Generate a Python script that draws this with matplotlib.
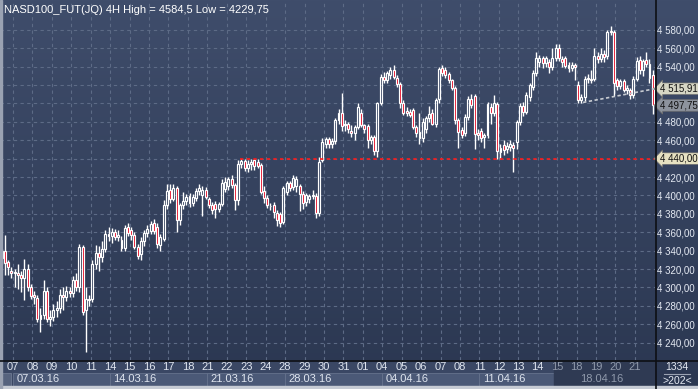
import numpy as np
import matplotlib
matplotlib.use('Agg')
import matplotlib.pyplot as plt
from matplotlib.patches import Rectangle
from matplotlib.lines import Line2D
from matplotlib.colors import LinearSegmentedColormap
from matplotlib.transforms import blended_transform_factory

plt.rcParams['font.family'] = ['Liberation Sans', 'DejaVu Sans']

# 4H bars, NASD100 futures, 04.03.16 - 21.04.16
opens = [4332, 4340, 4328, 4318, 4316, 4316, 4313, 4310, 4320, 4301,
         4292, 4289, 4266, 4270, 4296, 4266, 4268, 4276, 4278, 4292,
         4290, 4296, 4294, 4308, 4300, 4344, 4275, 4288, 4287, 4326,
         4337, 4333, 4342, 4358, 4356, 4360, 4355, 4352, 4343, 4366,
         4362, 4357, 4344, 4336, 4350, 4359, 4361, 4370, 4366, 4346,
         4353, 4390, 4406, 4396, 4408, 4373, 4390, 4394, 4399, 4392,
         4397, 4405, 4400, 4406, 4396, 4390, 4391, 4385, 4391, 4407,
         4410, 4418, 4411, 4395, 4434, 4437, 4430, 4434, 4438, 4436,
         4433, 4405, 4397, 4389, 4390, 4381, 4380, 4371, 4404, 4413,
         4409, 4410, 4410, 4402, 4393, 4396, 4399, 4399, 4381, 4438,
         4456, 4461, 4456, 4459, 4482, 4490, 4476, 4478, 4470, 4468,
         4474, 4490, 4476, 4475, 4460, 4463, 4448, 4500, 4529, 4525,
         4531, 4536, 4528, 4521, 4500, 4492, 4491, 4493, 4474, 4469,
         4462, 4472, 4484, 4490, 4478, 4505, 4538, 4536, 4532, 4525,
         4517, 4482, 4471, 4468, 4485, 4505, 4508, 4468, 4470, 4463,
         4466, 4496, 4490, 4499, 4452, 4455, 4450, 4453, 4455, 4458,
         4480, 4497, 4491, 4507, 4518, 4533, 4545, 4549, 4544, 4545,
         4540, 4549, 4560, 4548, 4549, 4542, 4538, 4542, 4520, 4504,
         4507, 4526, 4527, 4527, 4552, 4548, 4554, 4551, 4579, 4578,
         4525, 4519, 4524, 4514, 4515, 4509, 4527, 4547, 4536, 4547,
         4543, 4531]
highs = [4342, 4357, 4330, 4322, 4320, 4325, 4318, 4331, 4326, 4304,
         4296, 4292, 4278, 4308, 4300, 4275, 4282, 4285, 4298, 4300,
         4302, 4300, 4312, 4316, 4347, 4346, 4300, 4292, 4330, 4346,
         4345, 4350, 4362, 4366, 4365, 4364, 4362, 4356, 4368, 4370,
         4366, 4360, 4347, 4355, 4362, 4368, 4372, 4374, 4370, 4358,
         4395, 4412, 4412, 4412, 4410, 4392, 4404, 4402, 4403, 4402,
         4408, 4412, 4410, 4409, 4398, 4393, 4394, 4393, 4418, 4420,
         4420, 4422, 4413, 4438, 4440, 4440, 4438, 4440, 4440, 4440,
         4435, 4410, 4400, 4392, 4393, 4384, 4382, 4410, 4416, 4416,
         4422, 4421, 4412, 4405, 4403, 4402, 4406, 4403, 4442, 4462,
         4464, 4463, 4462, 4484, 4494, 4511, 4482, 4480, 4476, 4476,
         4500, 4494, 4478, 4478, 4466, 4466, 4502, 4532, 4534, 4535,
         4540, 4542, 4531, 4523, 4504, 4496, 4494, 4495, 4476, 4490,
         4484, 4486, 4497, 4494, 4506, 4540, 4542, 4539, 4534, 4527,
         4519, 4484, 4474, 4488, 4508, 4510, 4510, 4472, 4473, 4468,
         4502, 4500, 4509, 4502, 4456, 4460, 4458, 4460, 4458, 4482,
         4500, 4502, 4512, 4522, 4536, 4556, 4553, 4552, 4551, 4548,
         4560, 4564, 4565, 4552, 4552, 4545, 4545, 4544, 4524, 4510,
         4530, 4532, 4536, 4560, 4556, 4560, 4558, 4580, 4584.5, 4580,
         4528, 4527, 4526, 4520, 4517, 4530, 4550, 4552, 4548, 4556,
         4548, 4536]
lows = [4325, 4314, 4314, 4310, 4300, 4298, 4295, 4286, 4296, 4288,
        4282, 4262, 4252, 4266, 4262, 4258, 4264, 4268, 4272, 4276,
        4285, 4290, 4290, 4296, 4295, 4270, 4229.75, 4280, 4284, 4320,
        4318, 4328, 4338, 4350, 4348, 4352, 4350, 4340, 4340, 4356,
        4352, 4342, 4331, 4330, 4345, 4355, 4358, 4358, 4343, 4340,
        4350, 4385, 4392, 4394, 4360, 4368, 4385, 4390, 4387, 4388,
        4394, 4400, 4378, 4396, 4386, 4380, 4376, 4382, 4389, 4404,
        4406, 4408, 4384, 4390, 4430, 4426, 4425, 4428, 4428, 4430,
        4402, 4392, 4386, 4384, 4375, 4367, 4366, 4369, 4400, 4405,
        4406, 4404, 4383, 4385, 4388, 4392, 4396, 4376, 4378, 4436,
        4452, 4452, 4452, 4456, 4478, 4470, 4470, 4468, 4463, 4460,
        4472, 4474, 4468, 4452, 4456, 4444, 4442, 4498, 4522, 4522,
        4527, 4526, 4518, 4495, 4487, 4486, 4485, 4472, 4464, 4456,
        4458, 4468, 4480, 4476, 4474, 4500, 4530, 4528, 4522, 4514,
        4478, 4451, 4462, 4465, 4482, 4495, 4450, 4460, 4458, 4452,
        4462, 4478, 4486, 4440, 4440, 4444, 4446, 4448, 4425, 4450,
        4476, 4486, 4488, 4503, 4515, 4530, 4540, 4538, 4540, 4533,
        4536, 4546, 4546, 4540, 4538, 4534, 4535, 4525, 4500, 4500,
        4503, 4522, 4522, 4524, 4544, 4545, 4545, 4548, 4574, 4508,
        4515, 4516, 4512, 4510, 4505, 4506, 4524, 4532, 4530, 4540,
        4522, 4488]
closes = [4340, 4327, 4322, 4316, 4316, 4313, 4310, 4320, 4301, 4291,
          4290, 4266, 4270, 4296, 4266, 4268, 4276, 4278, 4292, 4290,
          4296, 4294, 4308, 4300, 4344, 4273, 4288, 4286, 4326, 4337,
          4333, 4342, 4358, 4356, 4360, 4355, 4357, 4343, 4365, 4359,
          4357, 4344, 4334, 4350, 4359, 4364, 4369, 4361, 4347, 4355,
          4390, 4405, 4396, 4408, 4373, 4390, 4394, 4398, 4392, 4398,
          4405, 4408, 4406, 4398, 4390, 4384, 4385, 4391, 4414, 4415,
          4418, 4411, 4395, 4434, 4437, 4430, 4434, 4436, 4432, 4432,
          4404, 4397, 4390, 4388, 4382, 4373, 4370, 4408, 4413, 4408,
          4419, 4418, 4402, 4392, 4400, 4399, 4400, 4381, 4436, 4458,
          4461, 4456, 4459, 4482, 4489, 4475, 4478, 4472, 4468, 4474,
          4496, 4476, 4472, 4460, 4463, 4448, 4500, 4529, 4525, 4533,
          4536, 4529, 4521, 4500, 4490, 4489, 4487, 4474, 4468, 4462,
          4480, 4484, 4488, 4478, 4504, 4537, 4533, 4531, 4525, 4517,
          4482, 4469, 4466, 4485, 4505, 4498, 4467, 4466, 4462, 4466,
          4499, 4490, 4500, 4448, 4447, 4449, 4454, 4456, 4452, 4480,
          4497, 4491, 4509, 4520, 4533, 4549, 4549, 4544, 4549, 4540,
          4549, 4560, 4549, 4545, 4541, 4538, 4542, 4540, 4504, 4507,
          4527, 4528, 4525, 4552, 4548, 4554, 4550, 4578, 4578, 4522,
          4519, 4524, 4515, 4517, 4509, 4527, 4546, 4536, 4546, 4543,
          4528, 4497.75]

day_labels = ['07', '08', '09', '10', '11', '14', '15', '16', '17', '18',
              '21', '22', '23', '24', '28', '29', '30', '31', '01', '04',
              '05', '06', '07', '08', '11', '12', '13', '14', '15', '18',
              '19', '20', '21']
week_labels = ['07.03.16', '14.03.16', '21.03.16', '28.03.16',
               '04.04.16', '11.04.16', '18.04.16']
week_first_day = [0, 5, 10, 14, 19, 24, 29]
first_bar = 4          # bars before 07.03 on screen
bars_per_day = 6
dim_from_day = 28      # bottom strip darker from 15.04

level_line = 4440.0
trend_x = [179.5, 201.7]
trend_y = [4501.0, 4515.91]
last_price = 4497.75
hi_txt, lo_txt = '4584,5', '4229,75'
price_ticks = np.arange(4240, 4581, 20)
hidden_ticks = [4500, 4520, 4440]   # covered by the price boxes


def fmt(v):
    return f'{v:,.2f}'.replace(',', ' ').replace('.', ',')


W, H = 698, 389
fig = plt.figure(figsize=(W / 100, H / 100), dpi=100)

# background gradient
bg = fig.add_axes([0, 0, 1, 1])
bg.axis('off')
cmap = LinearSegmentedColormap.from_list('bg', ['#3f4d6b', '#2b3751'])
bg.imshow(np.linspace(0, 1, 256).reshape(-1, 1), aspect='auto', cmap=cmap,
          extent=[0, 1, 0, 1])
bg.set_xlim(0, 1)
bg.set_ylim(0, 1)

ax = fig.add_axes([0, 29 / H, 655 / W, 360 / H])
ax.patch.set_alpha(0)
for s in ax.spines.values():
    s.set_visible(False)

o = np.array(opens, float)
h = np.array(highs, float)
l = np.array(lows, float)
c = np.array(closes, float)
x = np.arange(len(c))
top = np.maximum(o, c)
bot = np.minimum(o, c)
body = np.maximum(top - bot, 0.6)
fill = ['none' if cc >= oo else '#e3001b' for oo, cc in zip(o, c)]

ax.vlines(x, top, h, color='white', lw=1.0, zorder=3)
ax.vlines(x, l, bot, color='white', lw=1.0, zorder=3)
ax.bar(x, body, 0.6, bottom=bot, color=fill, edgecolor='white', lw=0.85, zorder=4)

day_pos = first_bar - 0.5 + bars_per_day * np.arange(len(day_labels))
ax.set_xticks(day_pos)
ax.set_xticklabels([])
ax.tick_params(axis='x', length=0)
ax.set_yticks(price_ticks)
ax.set_yticklabels(['' if v in hidden_ticks else fmt(v) for v in price_ticks])
ax.yaxis.tick_right()
ax.tick_params(axis='y', length=0, pad=1.5, labelsize=7, labelcolor='#e4e9f2')
ax.grid(True, color='#5d6b86', ls=(0, (3, 3)), lw=0.8, zorder=1)
ax.set_xlim(-0.5, 201.7)
ax.set_ylim(4221.2, 4612.3)

ax.hlines(level_line, 73.5, 201.7, color='#ff1a1a', ls=(0, (2, 2)), lw=1.2, zorder=5)
ax.plot(trend_x, trend_y, color='#c8ccd2', ls=(0, (2, 1.5)), lw=1.2, zorder=5)

ax.text(4 / 655, 1 - 10 / 360,
        f'NASD100_FUT(JQ) 4H High = {hi_txt} Low = {lo_txt}',
        transform=ax.transAxes, va='center', ha='left', fontsize=8, color='white')

tr = blended_transform_factory(ax.transAxes, ax.transData)
for val, fc in [(trend_y[-1], '#d6d6c4'), (last_price, '#8d939d'), (level_line, '#e7e2c2')]:
    ax.text(1 + 5 / 655, val, fmt(val),
            transform=tr, va='center', ha='left', fontsize=7, color='#111111',
            bbox=dict(boxstyle='larrow,pad=0.08', fc=fc, ec='#707070', lw=0.5),
            clip_on=False, zorder=10)

# bottom strip with day and week labels
ax2 = fig.add_axes([0, 3 / H, 655 / W, 26 / H])
ax2.axis('off')
ax2.set_xlim(ax.get_xlim())
ax2.set_ylim(0, 1)
ax2.add_patch(Rectangle((-0.5, 0), 202.2, 1, color='#3a4764', zorder=0))
ax2.add_patch(Rectangle((-0.5, 0), first_bar - 0.6, 0.5, fc='#56637e', ec='#6e7a93', lw=0.6, zorder=1))
edges = list(week_first_day) + [dim_from_day]
for i in range(len(week_labels) - 1):
    x0 = day_pos[edges[i]]
    x1 = day_pos[edges[i + 1]] if i + 1 < len(week_labels) - 1 else day_pos[dim_from_day]
    ax2.add_patch(Rectangle((x0, 0), x1 - x0, 0.5, fc='#4b5977', ec='#65728d', lw=0.6, zorder=1))
dim_x = day_pos[dim_from_day] - 1
ax2.add_patch(Rectangle((dim_x, 0), 201.7 - dim_x, 1, color='#2f3a53', zorder=2))
for i, lab in enumerate(day_labels):
    col = '#8f99ab' if i >= dim_from_day else '#dfe5ef'
    ax2.text(day_pos[i], 0.74, lab, ha='center', va='center', fontsize=8, color=col, zorder=3)
for i, lab in enumerate(week_labels):
    col = '#8f99ab' if week_first_day[i] >= dim_from_day else '#dfe5ef'
    ax2.text(day_pos[week_first_day[i]] + 1, 0.25, lab, ha='left', va='center',
             fontsize=8, color=col, zorder=3)

# separators and frame
fig.add_artist(Line2D([655.5 / W] * 2, [0, 1], color='#0d0f14', lw=1.2))
fig.add_artist(Line2D([0, 1], [(H - 360.5) / H] * 2, color='#0d0f14', lw=1.2))
fig.add_artist(Rectangle((0, 0), 1, 3 / H, color='#c6cbd4', transform=fig.transFigure))
fig.add_artist(Rectangle((0, 0), 1.5 / W, 1, color='#9aa2b2', transform=fig.transFigure))

# bar counter box
fig.text(677 / W, (H - 367) / H, '1334', ha='center', va='center', fontsize=7.5, color='#e4e9f2')
fig.add_artist(Line2D([664 / W, 690 / W], [(H - 374) / H] * 2, color='#9aa2b2', lw=0.8))
fig.text(677 / W, (H - 380.5) / H, f'>{len(closes)}<', ha='center', va='center',
         fontsize=7.5, color='#e4e9f2')

fig.savefig('out.png', dpi=100)
